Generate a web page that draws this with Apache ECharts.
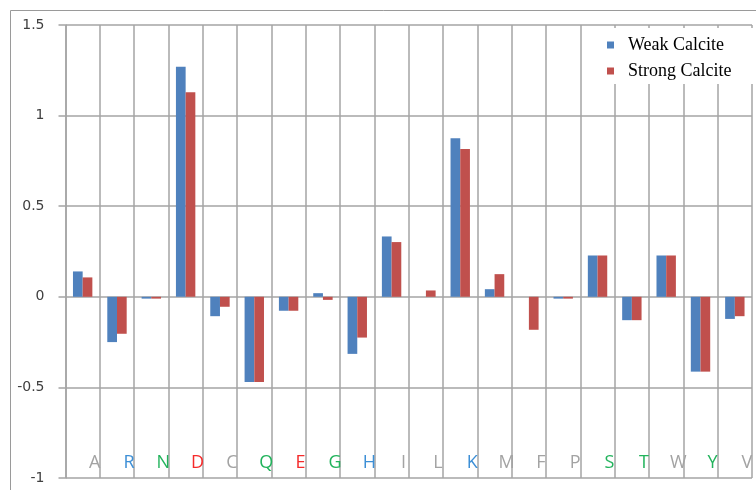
<!DOCTYPE html>
<html>
<head>
<meta charset="utf-8">
<script src="https://cdn.jsdelivr.net/npm/echarts@6/dist/echarts.min.js"></script>
<style>
  html, body { margin: 0; padding: 0; background: #fff; }
  #chart { width: 756px; height: 490px; }
</style>
</head>
<body>
<div id="chart"></div>
<script>
// Amino acid residues on the category axis
const categories = ['A', 'R', 'N', 'D', 'C', 'Q', 'E', 'G', 'H', 'I', 'L', 'K', 'M', 'F', 'P', 'S', 'T', 'W', 'Y', 'V'];

// Colour class of each residue label
const labelColors = ['#a3a3a3', '#3d8fd6', '#22b35c', '#f52a2a', '#a3a3a3', '#22b35c', '#f52a2a', '#22b35c', '#3d8fd6', '#a3a3a3',
                     '#a3a3a3', '#3d8fd6', '#a3a3a3', '#a3a3a3', '#a3a3a3', '#22b35c', '#22b35c', '#a3a3a3', '#22b35c', '#a3a3a3'];

// Values per residue
const weakCalcite   = [0.14, -0.25, -0.01, 1.27, -0.107, -0.47, -0.077, 0.02, -0.315, 0.333,
                       0, 0.875, 0.042, 0, -0.01, 0.228, -0.129, 0.228, -0.413, -0.122];
const strongCalcite = [0.107, -0.204, -0.01, 1.129, -0.055, -0.47, -0.077, -0.017, -0.225, 0.302,
                       0.035, 0.816, 0.125, -0.182, -0.01, 0.228, -0.129, 0.228, -0.413, -0.107];

const seriesNames = ['Weak Calcite', 'Strong Calcite'];

const gridColor = '#a4a4a4';

const chart = echarts.init(document.getElementById('chart'), null, { renderer: 'canvas' });

chart.setOption({
  animation: false,
  backgroundColor: '#ffffff',
  graphic: [{
    type: 'rect',
    shape: { x: 10.5, y: 10.5, width: 800, height: 600 },
    style: { fill: 'none', stroke: '#9a9a9a', lineWidth: 1 },
    z: -1
  }],
  grid: { left: 65.5, right: 4, top: 25, bottom: 12, containLabel: false },
  legend: {
    orient: 'vertical',
    left: 603,
    top: 28,
    backgroundColor: '#ffffff',
    padding: [8, 40, 4, 4],
    itemWidth: 7,
    itemHeight: 7,
    itemGap: 8,
    icon: 'rect',
    textStyle: {
      fontFamily: '"Liberation Serif", "Times New Roman", serif',
      fontSize: 18,
      color: '#000',
      padding: [0, 0, 0, 9]
    },
    data: seriesNames
  },
  xAxis: {
    type: 'category',
    data: categories,
    boundaryGap: true,
    axisLine: { show: false, onZero: false },
    axisTick: { show: false },
    splitLine: { show: true, interval: 0, lineStyle: { color: gridColor, width: 1.5 } },
    axisLabel: {
      inside: true,
      interval: 0,
      margin: 6,
      fontFamily: '"Open Sans", "Noto Sans", sans-serif',
      fontSize: 18,
      padding: [0, 0, 0, 24],
      color: (value, index) => labelColors[index]
    }
  },
  yAxis: {
    type: 'value',
    min: -1,
    max: 1.5,
    interval: 0.5,
    axisLine: { show: true, lineStyle: { color: gridColor, width: 1.5 } },
    axisTick: { show: true, length: 7, lineStyle: { color: gridColor, width: 1.5 } },
    splitLine: { show: true, lineStyle: { color: gridColor, width: 1.5 } },
    axisLabel: {
      margin: 21,
      fontFamily: '"DejaVu Sans", Verdana, sans-serif',
      fontSize: 14,
      color: '#404040'
    }
  },
  series: [
    {
      name: seriesNames[0],
      type: 'bar',
      data: weakCalcite,
      barWidth: 9.7,
      barGap: '0%',
      itemStyle: { color: '#4f81bd' }
    },
    {
      name: seriesNames[1],
      type: 'bar',
      data: strongCalcite,
      barWidth: 9.7,
      barGap: '0%',
      itemStyle: { color: '#c0504d' }
    }
  ]
});
</script>
</body>
</html>
